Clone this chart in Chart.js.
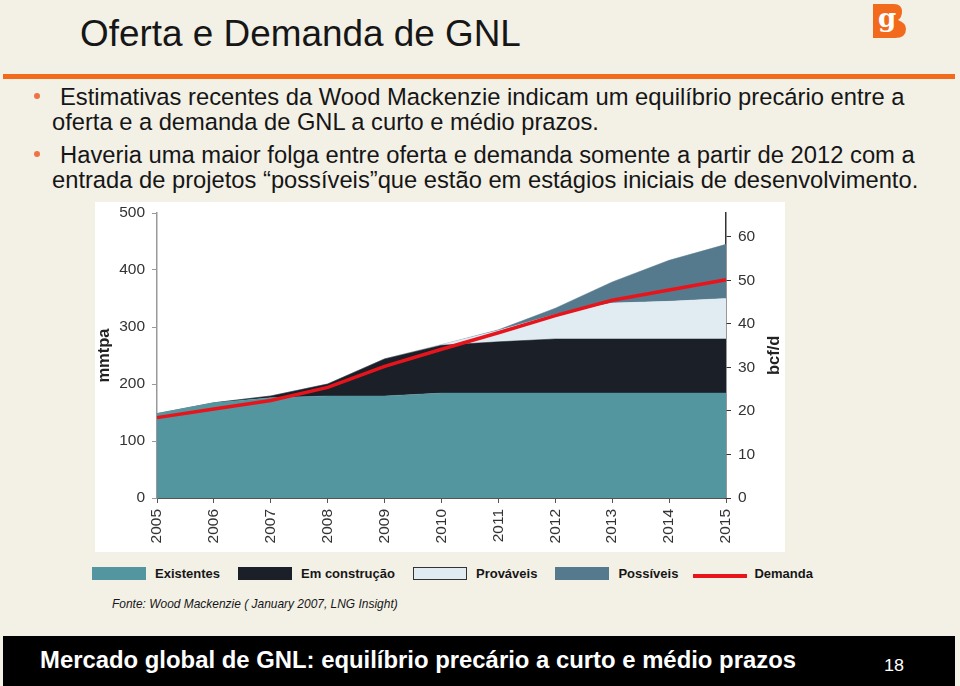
<!DOCTYPE html>
<html><head><meta charset="utf-8">
<script src="https://cdn.jsdelivr.net/npm/chart.js@4.4.0/dist/chart.umd.min.js"></script>
<style>
html,body{margin:0;padding:0;}
body{width:960px;height:686px;background:#f3f0e6;position:relative;overflow:hidden;font-family:"Liberation Sans",Arial,sans-serif;color:#161616;}
.t{position:absolute;white-space:nowrap;line-height:1;}
#rule{position:absolute;left:3px;top:74px;width:952px;height:5px;background:#f26b1d;}
.dot{position:absolute;width:6px;height:6px;border-radius:50%;background:#ee7346;}
#panel{position:absolute;left:95px;top:202px;width:690px;height:350px;background:#fff;}
#legend{position:absolute;left:92px;top:566px;display:flex;align-items:center;font-weight:bold;font-size:13px;color:#161616;}
.li{display:flex;align-items:center;margin-right:18px;}
.sw{width:54px;height:13px;margin-right:9px;box-sizing:border-box;}
#footer{position:absolute;left:3px;top:636px;width:952px;height:50px;background:#000;}
</style></head><body>
<div class="t" id="title" style="font-size:36px;">Oferta e Demanda de GNL</div>
<svg style="position:absolute;left:873px;top:4px" width="33" height="34" viewBox="0 0 33 34">
  <path d="M0,0 H21 Q29,0 29,8 Q29,13 25,16 Q33,19 33,25 Q33,34 22,34 H0 Z" fill="#f26b1d"/>
  <text x="14" y="23" text-anchor="middle" font-family="DejaVu Serif" font-weight="bold" font-size="26" fill="#fff">g</text>
</svg>
<div id="rule"></div>
<div class="dot" style="left:34px;top:93px"></div>
<div class="dot" style="left:34px;top:151px"></div>
<div class="t" id="l1" style="font-size:21px;">Estimativas recentes da Wood Mackenzie indicam um equilíbrio precário entre a</div>
<div class="t" id="l2" style="font-size:21px;">oferta e a demanda de GNL a curto e médio prazos.</div>
<div class="t" id="l3" style="font-size:21px;">Haveria uma maior folga entre oferta e demanda somente a partir de 2012 com a</div>
<div class="t" id="l4" style="font-size:21px;">entrada de projetos “possíveis”que estão em estágios iniciais de desenvolvimento.</div>
<div id="panel"><canvas id="c" width="690" height="350"></canvas></div>
<div class="t" id="rtitle" style="font-size:16.5px;font-weight:bold;color:#222;transform-origin:0 0;">bcf/d</div>
<div id="legend"></div>
<div class="t" id="src" style="font-size:12px;font-style:italic;color:#161616;">Fonte: Wood Mackenzie ( January 2007, LNG Insight)</div>
<div id="footer"></div>
<div class="t" id="ftext" style="font-size:24px;font-weight:bold;color:#fff;transform-origin:0 0;">Mercado global de GNL: equilíbrio precário a curto e médio prazos</div>
<div class="t" id="fnum" style="font-size:17px;color:#fff;transform-origin:0 0;">18</div>
<script>
// ---- data ----
const years = ['2005','2006','2007','2008','2009','2010','2011','2012','2013','2014','2015'];
const existentes   = [148,167,176,179,179,184,184,184,184,184,184];
const emConstrucao = [0,0,3,21,65,84,90,95,95,95,95];
const provaveis    = [0,0,0,0,0,1,20,43,63,66,71];
const possiveis    = [0,0,0,0,0,0,1,11,37,72,95];
const demanda      = [141,156,171,194,231,261,290,320,347,365,383];
const seriesNames  = ['Existentes','Em construção','Prováveis','Possíveis','Demanda'];
const leftMax = 500, leftStep = 100;
const BCF_PER_MMTPA = 0.131;   // right axis conversion
const rightStep = 10;

// ---- text layout helpers ----
function fitWidth(id, target){const el=document.getElementById(id);const w=el.getBoundingClientRect().width;const fs=parseFloat(getComputedStyle(el).fontSize);el.style.fontSize=(fs*target/w)+'px';}
function scaleWidth(id, target){const el=document.getElementById(id);const w=el.getBoundingClientRect().width;el.style.transform='scaleX('+(target/w)+')';}
function placeBase(id,left,baseline){const el=document.getElementById(id);const fs=parseFloat(getComputedStyle(el).fontSize);el.style.left=left+'px';el.style.top=(baseline-0.8465*fs)+'px';}
fitWidth('title',441); placeBase('title',80,47.5);
fitWidth('l1',845); placeBase('l1',60,105);
fitWidth('l2',547); placeBase('l2',52,131);
fitWidth('l3',855); placeBase('l3',60,163);
fitWidth('l4',867); placeBase('l4',52,189);
fitWidth('src',286); placeBase('src',112,609);
scaleWidth('ftext',756); placeBase('ftext',40,668);
scaleWidth('fnum',20); placeBase('fnum',884,671);

// ---- chart ----
const fontTick = {family:'"Liberation Sans", Arial, sans-serif', size:15.5};
const colors = ['#5496a0','#1b1f28','#e1ebf2','#567a8d','#e8141c'];
const areaDs = (label, data, color, fill) => ({label, data, backgroundColor: color, borderColor: color, borderWidth: 0.5, fill, pointRadius: 0, tension: 0, order: 2, yAxisID: 'y'});
const fitV = w => s => { s.width = w; s.paddingTop = 0; s.paddingBottom = 0; };
const chart = new Chart(document.getElementById('c'), {
  type: 'line',
  data: {
    labels: years,
    datasets: [
      areaDs(seriesNames[0], existentes, colors[0], 'origin'),
      areaDs(seriesNames[1], emConstrucao, colors[1], '-1'),
      areaDs(seriesNames[2], provaveis, colors[2], '-1'),
      areaDs(seriesNames[3], possiveis, colors[3], '-1'),
      {label: seriesNames[4], data: demanda, borderColor: colors[4], backgroundColor: colors[4], borderWidth: 3.5, fill: false, pointRadius: 0, tension: 0, stack: 'demanda', order: 0, yAxisID: 'y'}
    ]
  },
  options: {
    responsive: false, animation: false,
    layout: {padding: {top: 11, left: 0, right: 0, bottom: 0}},
    plugins: {legend: {display: false}, tooltip: {enabled: false}},
    scales: {
      x: {
        grid: {drawOnChartArea: false, drawTicks: true, tickLength: 5, color: '#555'},
        border: {color: '#555', width: 1},
        ticks: {minRotation: 90, maxRotation: 90, padding: 6, font: fontTick, color: '#333', autoSkip: false},
        afterFit: s => { s.height = 54; }
      },
      y: {
        stacked: true, min: 0, max: leftMax,
        grid: {drawOnChartArea: false, drawTicks: true, tickLength: 5, color: '#999'},
        border: {color: '#999', width: 1.5},
        ticks: {stepSize: leftStep, padding: 7, font: fontTick, color: '#333'},
        title: {display: true, text: 'mmtpa', font: {family: '"Liberation Sans", Arial, sans-serif', size: 16.5, weight: 'bold'}, color: '#222', padding: {top: 0, bottom: 0}},
        afterFit: fitV(62)
      },
      y2: {
        position: 'right', min: 0, max: leftMax * BCF_PER_MMTPA,
        grid: {drawOnChartArea: false, drawTicks: true, tickLength: 5, color: '#333'},
        border: {color: '#333', width: 1.5},
        ticks: {stepSize: rightStep, includeBounds: false, padding: 7, font: fontTick, color: '#333'},
        afterFit: fitV(59)
      }
    }
  }
});

// right axis title (reads bottom-to-top like the original)
(function(){
  const r = document.getElementById('rtitle');
  const w = r.getBoundingClientRect().width, h = r.getBoundingClientRect().height;
  const ca = chart.chartArea;
  const cx = 95 + 678, cy = 202 + (ca.top + ca.bottom) / 2;
  r.style.left = (cx - h/2) + 'px';
  r.style.top = (cy + w/2) + 'px';
  r.style.transform = 'rotate(-90deg)';
})();

// legend built from datasets
(function(){
  const lg = document.getElementById('legend');
  chart.data.datasets.forEach((ds, i) => {
    const item = document.createElement('div'); item.className = 'li';
    const sw = document.createElement('div'); sw.className = 'sw';
    if (i === 4) { sw.style.height = '4px'; sw.style.background = ds.borderColor; sw.style.marginTop = '5px'; sw.style.marginRight = '7px'; }
    else { sw.style.background = ds.backgroundColor; if (i === 2) sw.style.border = '1px solid #333'; }
    if (i === 3) item.style.marginRight = '15px';
    const tx = document.createElement('span'); tx.textContent = ds.label;
    item.appendChild(sw); item.appendChild(tx); lg.appendChild(item);
  });
})();
</script>
</body></html>
